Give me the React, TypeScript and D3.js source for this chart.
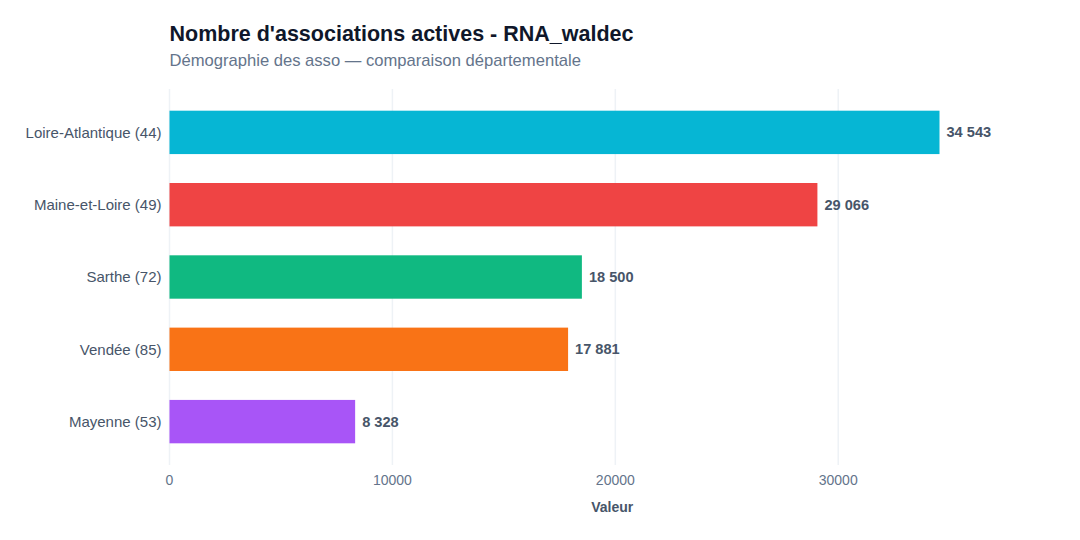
import React, { useEffect, useRef } from 'react';
import * as d3 from 'd3';

const departements = [
	'Loire-Atlantique (44)',
	'Maine-et-Loire (49)',
	'Sarthe (72)',
	'Vendée (85)',
	'Mayenne (53)',
];
const valeurs = [34543, 29066, 18500, 17881, 8328];
const couleurs = ['#06b6d4', '#ef4444', '#10b981', '#f97316', '#a855f7'];
const tickValues = [0, 10000, 20000, 30000];

const WIDTH = 1080;
const HEIGHT = 540;
const FONT = '"Liberation Sans", Arial, Helvetica, sans-serif';

const App: React.FC = () => {
	const svgRef = useRef<SVGSVGElement | null>(null);

	useEffect(() => {
		if (!svgRef.current) return;

		const margin = { top: 89, right: 25, bottom: 75, left: 169.5 };
		const innerW = WIDTH - margin.left - margin.right;
		const innerH = HEIGHT - margin.top - margin.bottom;

		const data = departements.map((name, i) => ({ name, value: valeurs[i], color: couleurs[i] }));

		const x = d3
			.scaleLinear()
			.domain([0, d3.max(valeurs)! * 1.15])
			.range([0, innerW]);
		const y = d3
			.scaleBand<string>()
			.domain(departements)
			.range([0, innerH])
			.paddingInner(0.4)
			.paddingOuter(0.3);

		// format fr : espace comme séparateur de milliers
		const fr = d3.formatLocale({ decimal: ',', thousands: ' ', grouping: [3], currency: ['', ' €'] });
		const fmt = fr.format(',d');

		const svg = d3.select(svgRef.current);
		svg.selectAll('*').remove();
		svg.attr('width', WIDTH).attr('height', HEIGHT).style('font-family', FONT);

		svg.append('rect').attr('width', WIDTH).attr('height', HEIGHT).attr('fill', '#ffffff');

		svg
			.append('text')
			.attr('x', margin.left)
			.attr('y', 41)
			.attr('font-size', 21.5)
			.attr('font-weight', 'bold')
			.attr('fill', '#0f172a')
			.text("Nombre d'associations actives - RNA_waldec");

		svg
			.append('text')
			.attr('x', margin.left)
			.attr('y', 66)
			.attr('font-size', 16.6)
			.attr('fill', '#64748b')
			.text('Démographie des asso — comparaison départementale');

		const g = svg.append('g').attr('transform', `translate(${margin.left},${margin.top})`);

		// grille verticale
		g.append('g')
			.selectAll('line')
			.data(tickValues)
			.join('line')
			.attr('x1', (d) => x(d))
			.attr('x2', (d) => x(d))
			.attr('y1', 0)
			.attr('y2', innerH)
			.attr('stroke', '#eef2f6')
			.attr('stroke-width', 1.5);

		g.append('g')
			.selectAll('rect')
			.data(data)
			.join('rect')
			.attr('x', 0)
			.attr('y', (d) => y(d.name)!)
			.attr('width', (d) => x(d.value))
			.attr('height', y.bandwidth())
			.attr('fill', (d) => d.color);

		g.append('g')
			.selectAll('text')
			.data(data)
			.join('text')
			.attr('x', (d) => x(d.value) + 7)
			.attr('y', (d) => y(d.name)! + y.bandwidth() / 2)
			.attr('dy', '0.35em')
			.attr('font-size', 14.6)
			.attr('font-weight', 'bold')
			.attr('fill', '#475569')
			.text((d) => fmt(d.value));

		// axe Y
		g.append('g')
			.selectAll('text')
			.data(departements)
			.join('text')
			.attr('x', -8)
			.attr('y', (d) => y(d)! + y.bandwidth() / 2)
			.attr('dy', '0.35em')
			.attr('text-anchor', 'end')
			.attr('font-size', 15)
			.attr('fill', '#475569')
			.text((d) => d);

		// axe X
		g.append('g')
			.selectAll('text')
			.data(tickValues)
			.join('text')
			.attr('x', (d) => x(d))
			.attr('y', innerH + 20)
			.attr('text-anchor', 'middle')
			.attr('font-size', 14)
			.attr('fill', '#64748b')
			.text((d) => String(d));

		g.append('text')
			.attr('x', innerW / 2)
			.attr('y', innerH + 47)
			.attr('text-anchor', 'middle')
			.attr('font-size', 14)
			.attr('font-weight', 'bold')
			.attr('fill', '#475569')
			.text('Valeur');
	}, []);

	return <svg ref={svgRef} style={{ display: 'block', position: 'absolute', left: 0, top: 0 }}></svg>;
};

export default App;
